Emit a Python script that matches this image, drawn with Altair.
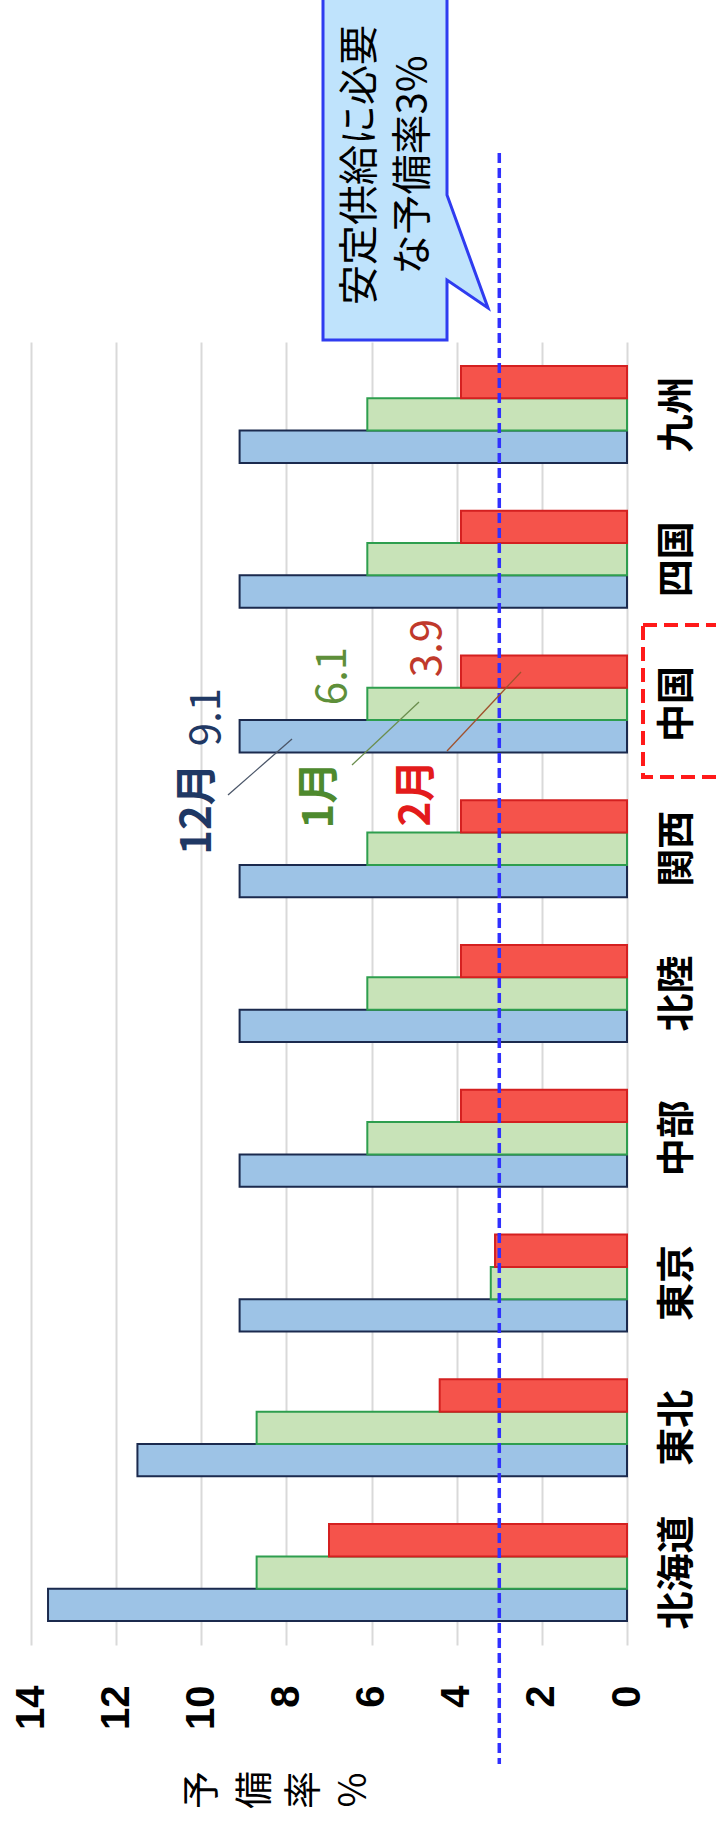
import altair as alt
import pandas as pd

# ---------------- data ----------------
regions = ["北海道", "東北", "東京", "中部", "北陸", "関西", "中国", "四国", "九州"]
months = ["12月", "1月", "2月"]
dec_vals = [13.6, 11.5, 9.1, 9.1, 9.1, 9.1, 9.1, 9.1, 9.1]
jan_vals = [8.7, 8.7, 3.2, 6.1, 6.1, 6.1, 6.1, 6.1, 6.1]
feb_vals = [7.0, 4.4, 3.1, 3.9, 3.9, 3.9, 3.9, 3.9, 3.9]
tick_values = [0, 2, 4, 6, 8, 10, 12, 14]
required_reserve = 3
callout_lines = ["安定供給に必要", "な予備率3%"]
axis_title_chars = ["予", "備", "率", "%"]
ann_months = ["12月", "1月", "2月"]
ann_values = ["9.1", "6.1", "3.9"]

rows = []
for i, r in enumerate(regions):
    for m, vals in zip(months, [dec_vals, jan_vals, feb_vals]):
        rows.append({"region": r, "month": m, "value": vals[i]})
df = pd.DataFrame(rows)
dummy = pd.DataFrame({"d": [0]})

# ---------------- layout / style ----------------
PL, PT = 31, 342          # plot origin in page pixels
W, H = 596, 1303
JP = "Noto Sans CJK JP"
fills = ["#9dc3e6", "#c8e3b8", "#f5534b"]
strokes = ["#1b2a4e", "#2e9e4e", "#d42020"]
ann_colors_m = ["#1f3864", "#4e8a2e", "#e31b1b"]
ann_colors_v = ["#1f3864", "#5e8f3a", "#c0392b"]


def rx(x):
    return x - PL


def ry(y):
    return y - PT


def txt(s, x, y, size, color, weight="normal", font=JP, angle=270):
    return alt.Chart(dummy).mark_text(
        text=s, angle=angle, fontSize=size, fontWeight=weight, color=color,
        font=font, align="center", baseline="middle"
    ).encode(x=alt.value(rx(x)), y=alt.value(ry(y)))


def seg(x1, y1, x2, y2, color, width=1.3):
    return alt.Chart(dummy).mark_rule(color=color, strokeWidth=width).encode(
        x=alt.value(rx(x1)), y=alt.value(ry(y1)),
        x2=alt.value(rx(x2)), y2=alt.value(ry(y2)))


bars = alt.Chart(df).mark_bar(strokeWidth=2).encode(
    y=alt.Y("region:N", sort=list(reversed(regions)),
            scale=alt.Scale(paddingInner=0.33, paddingOuter=0.165),
            axis=alt.Axis(orient="right", title=None, ticks=False, domain=False,
                          grid=False, labelAngle=270, labelAlign="center",
                          labelBaseline="top", labelPadding=31,
                          labelFont=JP, labelFontSize=38, labelFontWeight="bold",
                          labelColor="#000000")),
    yOffset=alt.YOffset("month:N", sort=["2月", "1月", "12月"],
                        scale=alt.Scale(paddingInner=0, paddingOuter=0)),
    x=alt.X("value:Q",
            scale=alt.Scale(domain=[0, 14], reverse=True, nice=False),
            axis=alt.Axis(orient="bottom", title=None, ticks=False, domain=False,
                          values=tick_values, labelAngle=270, labelAlign="right",
                          labelBaseline="middle", labelPadding=40, labelFlush=False,
                          labelFont="Liberation Sans", labelFontSize=40,
                          labelFontWeight="bold", labelColor="#000000",
                          grid=True, gridColor="#d9d9d9", gridWidth=2)),
    fill=alt.Fill("month:N", scale=alt.Scale(domain=months, range=fills), legend=None),
    stroke=alt.Stroke("month:N", scale=alt.Scale(domain=months, range=strokes), legend=None),
)

rule = alt.Chart(dummy).mark_rule(color="#3030ff", strokeWidth=3.5, strokeDash=[10, 5]).encode(
    x=alt.X(datum=required_reserve),
    y=alt.value(ry(153)), y2=alt.value(ry(1764)),
)

# leader lines
leaders = [
    seg(228, 795, 292, 739, "#4a5568"),
    seg(352, 765, 419, 702, "#6b8e4e"),
    seg(447, 751, 521, 672, "#a0522d"),
]

labels = [
    txt(ann_months[0], 198, 809, 42, ann_colors_m[0], "bold"),
    txt(ann_values[0], 207, 717, 42, ann_colors_v[0]),
    txt(ann_months[1], 320, 795, 42, ann_colors_m[1], "bold"),
    txt(ann_values[1], 333, 676, 42, ann_colors_v[1]),
    txt(ann_months[2], 417, 793, 42, ann_colors_m[2], "bold"),
    txt(ann_values[2], 428, 648, 42, ann_colors_v[2]),
]

# callout (box + pointer) as a single custom symbol path, 100 px per unit
cx, cy = 400, 170
pts = [(323, -10), (447, -10), (447, 195), (488, 308), (447, 280), (447, 340), (323, 340)]
path = "M" + " L".join(f"{(x - cx) / 100:.3f},{(y - cy) / 100:.3f}" for x, y in pts) + " Z"
callout = alt.Chart(dummy).mark_point(
    shape=path, size=40000, filled=True, fill="#bfe3fc", stroke="#2f3cf0",
    strokeWidth=3, opacity=1, fillOpacity=1, strokeOpacity=1
).encode(x=alt.value(rx(cx)), y=alt.value(ry(cy)))

callout_text = [
    txt(callout_lines[0], 361, 165, 40, "#000000"),
    txt(callout_lines[1], 414, 165, 40, "#000000"),
]

title_x = [203, 256, 305, 355]
title_text = [txt(c, x, 1790, 38, "#000000") for c, x in zip(axis_title_chars, title_x)]

red_box = alt.Chart(dummy).mark_rect(
    fill=None, fillOpacity=0, stroke="#ff1a1a", strokeWidth=4, strokeDash=[14, 7]
).encode(x=alt.value(rx(643)), x2=alt.value(rx(740)),
         y=alt.value(ry(625)), y2=alt.value(ry(777)))

chart = alt.layer(
    bars, rule, *leaders, *labels, callout, *callout_text, *title_text, red_box
).properties(
    width=W, height=H,
    autosize=alt.AutoSizeParams(type="none"),
    padding={"left": PL, "top": PT, "right": 716 - PL - W, "bottom": 1825 - PT - H},
    background="white",
).configure_view(stroke=None)

chart.save("out.html", embed_options={"renderer": "svg", "actions": False})
